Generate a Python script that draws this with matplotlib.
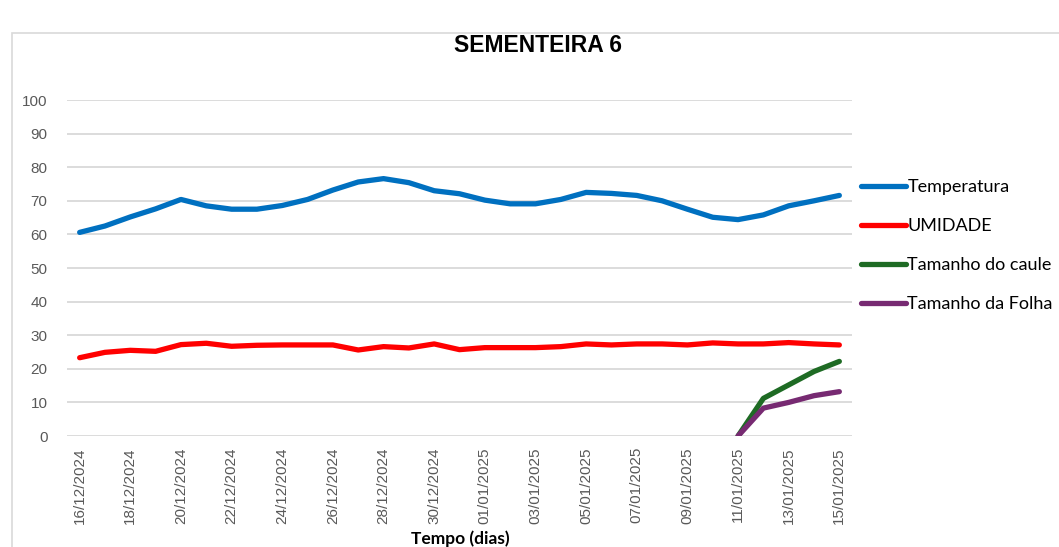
"""Sementeira 6: temperatura, umidade e crescimento (caule / folha)."""
from datetime import date, timedelta

import matplotlib.pyplot as plt
from matplotlib.patches import Rectangle

# --- dados ---
start = date(2024, 12, 16)
dias = [(start + timedelta(days=i)).strftime("%d/%m/%Y") for i in range(31)]

temperatura = [60.6, 62.5, 65.2, 67.6, 70.4, 68.5, 67.5, 67.5, 68.6, 70.4,
               73.2, 75.6, 76.6, 75.4, 73.0, 72.1, 70.2, 69.1, 69.1, 70.4,
               72.5, 72.2, 71.6, 70.0, 67.5, 65.1, 64.4, 65.8, 68.5, 70.0, 71.6]
umidade = [23.3, 24.9, 25.5, 25.2, 27.2, 27.6, 26.7, 27.0, 27.1, 27.1,
           27.1, 25.6, 26.6, 26.2, 27.4, 25.7, 26.3, 26.3, 26.3, 26.6,
           27.4, 27.1, 27.4, 27.4, 27.1, 27.7, 27.4, 27.4, 27.8, 27.4, 27.1]
caule_idx = [26, 27, 28, 29, 30]
caule = [0, 11.2, 15.2, 19.2, 22.2]
folha = [0, 8.3, 10.0, 12.0, 13.2]

CINZA = "#595959"

fig = plt.figure(figsize=(10.59, 5.47), dpi=100)
fig.patches.append(Rectangle((12 / 1059, -0.01), 1.05, 1 - 33 / 547 + 0.01,
                             transform=fig.transFigure, fill=False,
                             edgecolor="#d9d9d9", linewidth=1.2))

ax = fig.add_axes([67 / 1059, 1 - 436 / 547, (852 - 67) / 1059, (436 - 100) / 547])
x = list(range(len(dias)))
lw = 3.8
ax.plot(x, temperatura, color="#0070C0", lw=lw, solid_capstyle="round", label="Temperatura")
ax.plot(x, umidade, color="#FF0000", lw=lw, solid_capstyle="round", label="UMIDADE")
ax.plot(caule_idx, caule, color="#1E6B24", lw=lw, solid_capstyle="round", label="Tamanho do caule")
ax.plot(caule_idx, folha, color="#772A72", lw=lw, solid_capstyle="round", label="Tamanho da Folha")

ax.set_xlim(-0.5, len(dias) - 0.5)
ax.set_ylim(0, 100)
ax.set_yticks(range(0, 101, 10))
ax.yaxis.grid(True, color="#d9d9d9", lw=1.3)
ax.set_axisbelow(True)
for s in ax.spines.values():
    s.set_visible(False)
ax.tick_params(length=0, colors=CINZA, labelsize=11)
ax.set_xticks(x[::2])
ax.set_xticklabels(dias[::2], rotation=90, fontfamily="Liberation Sans")
for lab in ax.get_yticklabels():
    lab.set_fontfamily("Liberation Sans")
ax.tick_params(axis="x", pad=8)
ax.tick_params(axis="y", pad=14)

fig.text(538 / 1059, 1 - 46 / 547, "SEMENTEIRA 6", ha="center", va="center",
         fontsize=16.5, fontweight="bold", fontfamily="Liberation Sans")
fig.text(460 / 1059, 1 - 539 / 547, "Tempo (dias)", ha="center", va="center",
         fontsize=12.5, fontweight="bold", fontfamily="Lato")

fig.legend(loc="upper left", bbox_to_anchor=(854 / 1059, 1 - 172 / 547),
           frameon=False, prop={"family": "Lato", "size": 13},
           handlelength=2.5, handletextpad=0.05, labelspacing=1.27, borderaxespad=0)

fig.savefig("out.png", dpi=100)
